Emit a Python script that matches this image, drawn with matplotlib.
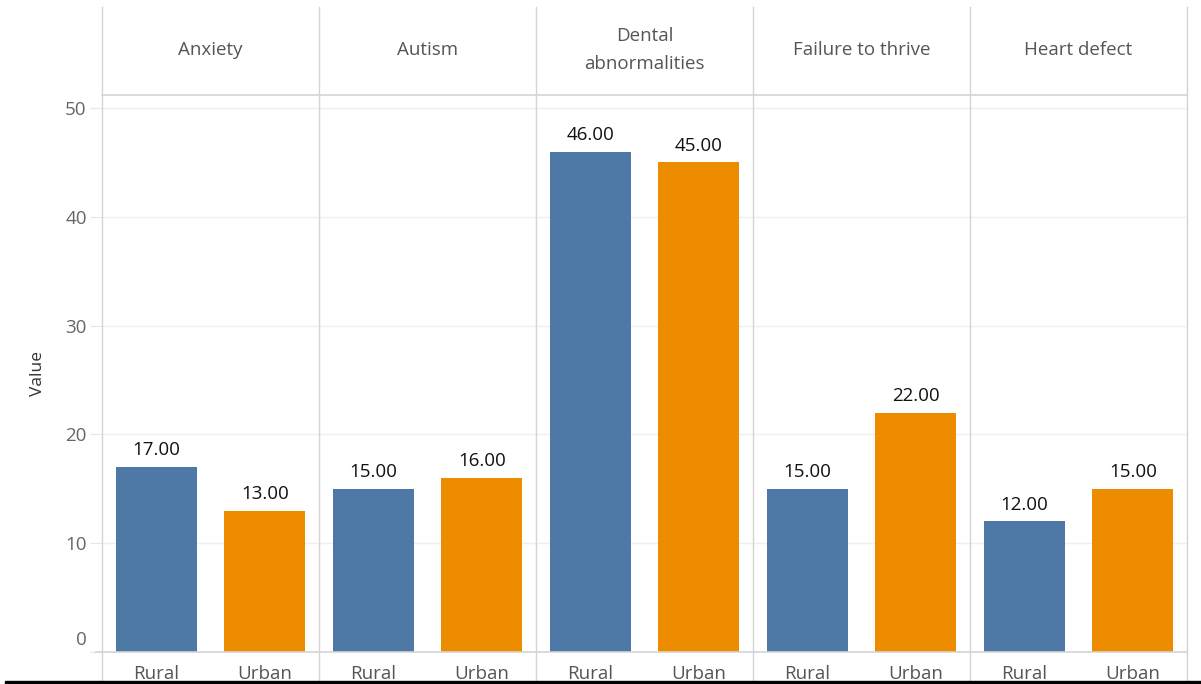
import matplotlib.pyplot as plt
import matplotlib.transforms as mtransforms
from matplotlib.lines import Line2D
from matplotlib.patches import Rectangle

plt.rcParams['font.family'] = ['Open Sans', 'DejaVu Sans']

conditions = ["Anxiety", "Autism", "Dental\nabnormalities", "Failure to thrive", "Heart defect"]
groups = ["Rural", "Urban"]
rural = [17, 15, 46, 15, 12]
urban = [13, 16, 45, 22, 15]
yticks = [0, 10, 20, 30, 40, 50]

blue = "#4e79a7"
orange = "#ee8c00"
grid_c = "#d4d4d4"
W, H = 1201, 684

fig = plt.figure(figsize=(W / 100, H / 100), dpi=100)
left, right, top, bottom = 102, 1187, 95, 652
ax = fig.add_axes([left / W, 1 - bottom / H, (right - left) / W, (bottom - top) / H])


def fx(px):
    return px / W


def fy(py):
    return 1 - py / H


n = len(conditions)
xs_r = [2 * i + 0.5 for i in range(n)]
xs_u = [2 * i + 1.5 for i in range(n)]
ax.bar(xs_r, rural, width=0.75, color=blue, zorder=3)
ax.bar(xs_u, urban, width=0.75, color=orange, zorder=3)

for x, v in zip(xs_r + xs_u, rural + urban):
    ax.text(x, v + 0.7, f"{v:.2f}", ha="center", va="bottom", fontsize=13.5, color="#111111", zorder=4)

ax.set_xlim(0, 2 * n)
ax.set_ylim(0, 51.2)
ax.set_yticks(yticks)
ax.set_yticklabels([str(t) for t in yticks], fontsize=13.5, color="#666666")
ax.tick_params(axis="y", length=9, color="#e6e6e6", pad=2)
# the bottom tick label sits above the baseline
lbl0 = ax.get_yticklabels()[0]
lbl0.set_transform(lbl0.get_transform() + mtransforms.ScaledTranslation(0, 14 / 100, fig.dpi_scale_trans))
ax.set_xticks([])
ax.grid(axis="y", color="#efefef", linewidth=1, zorder=0)
for s in ax.spines.values():
    s.set_visible(False)
ax.set_ylabel("Value", fontsize=12.5, color="#333333", labelpad=14)

# column dividers
for i in range(n + 1):
    x = left + i * (right - left) / n
    fig.add_artist(Line2D([fx(x), fx(x)], [fy(7), fy(684)], color=grid_c, linewidth=1))
# header bottom and axis baseline
fig.add_artist(Line2D([fx(left), fx(right)], [fy(top), fy(top)], color=grid_c, linewidth=1.2))
fig.add_artist(Line2D([fx(96), fx(right)], [fy(bottom), fy(bottom)], color=grid_c, linewidth=1.2))

# header labels
for i, name in enumerate(conditions):
    cx = left + (i + 0.5) * (right - left) / n
    fig.text(fx(cx), fy(50), name, ha="center", va="center", fontsize=13.5,
             color="#555555", linespacing=1.75)

# x category labels
for i in range(n):
    for j, g in enumerate(groups):
        cx = left + (2 * i + j + 0.5) * (right - left) / (2 * n)
        fig.text(fx(cx), fy(674), g, ha="center", va="center", fontsize=13.5, color="#555555")

# black bar along the bottom edge
fig.add_artist(Rectangle((fx(5), 0), 1 - fx(5), 3.5 / H, transform=fig.transFigure,
                         color="black", zorder=10))

fig.savefig("out.png", dpi=100)
